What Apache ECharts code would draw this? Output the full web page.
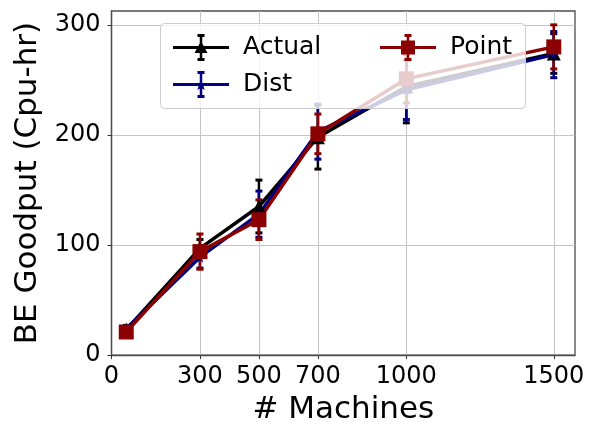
<!DOCTYPE html>
<html>
<head>
<meta charset="utf-8">
<script src="https://cdn.jsdelivr.net/npm/echarts@6/dist/echarts.min.js"></script>
<style>
  html, body { margin: 0; padding: 0; background: #fff; }
  #chart { width: 592px; height: 430px; }
</style>
</head>
<body>
<div id="chart"></div>
<script>
// 数据
const machines = [50, 300, 500, 700, 1000, 1500]
const actualVals = [23, 97, 135, 198, 244, 274]
const actualErr = [3, 8, 24, 29, 33, 18]
const distVals = [24, 89, 128, 203, 241, 273]
const distErr = [3, 10, 21, 25, 27, 21]
const pointVals = [21, 94, 123, 201, 251, 280]
const pointErr = [2, 16, 18, 18, 22, 20]
const xTicks = [0, 300, 500, 700, 1000, 1500]
const yTicks = [0, 100, 200, 300]

const FONT = 'DejaVu Sans'
const colors = { Actual: '#000000', Dist: '#000080', Point: '#8b0000' }

// legend icons: line + error bar + marker (56 x 27)
const base = 'M0 12 H56 V15 H0 Z M26.75 1 H29.25 V26 H26.75 Z M24.5 0 H31.5 V3 H24.5 Z M24.5 24 H31.5 V27 H24.5 Z '
const iconActual = 'path://' + base + 'M28 7 L34.5 19 L21.5 19 Z'
const iconDist = 'path://' + base + 'M28 8 L29.6 12 L33.5 12.3 L30.5 15 L31.5 19 L28 16.8 L24.5 19 L25.5 15 L22.5 12.3 L26.4 12 Z'
const iconPoint = 'path://' + base + 'M21 6.5 H35 V20.5 H21 Z'
const starPath = 'path://M50 0 L61 35 L98 35 L68 57 L79 92 L50 70 L21 92 L32 57 L2 35 L39 35 Z'

const pairs = (vals) => machines.map((m, i) => [m, vals[i]])
const errPairs = (vals, errs) => machines.map((m, i) => [m, vals[i], errs[i]])

// 误差线
function renderErr(params, api) {
  const x = api.value(0), y = api.value(1), e = api.value(2)
  const top = api.coord([x, y + e])
  const bot = api.coord([x, y - e])
  const c = api.visual('color')
  return {
    type: 'group',
    children: [
      { type: 'line', shape: { x1: top[0], y1: top[1], x2: bot[0], y2: bot[1] }, style: { stroke: c, lineWidth: 2.5 } },
      { type: 'line', shape: { x1: top[0] - 3.5, y1: top[1], x2: top[0] + 3.5, y2: top[1] }, style: { stroke: c, lineWidth: 3 } },
      { type: 'line', shape: { x1: bot[0] - 3.5, y1: bot[1], x2: bot[0] + 3.5, y2: bot[1] }, style: { stroke: c, lineWidth: 3 } }
    ]
  }
}

function lineSeries(name, vals, symbol, size) {
  return {
    name: name,
    type: 'line',
    data: pairs(vals),
    symbol: symbol,
    symbolSize: size,
    showAllSymbol: true,
    lineStyle: { color: colors[name], width: 3.5 },
    itemStyle: { color: colors[name], borderWidth: 0 },
    emphasis: { disabled: true },
    animation: false
  }
}
function errSeries(name, vals, errs) {
  return {
    name: name,
    type: 'custom',
    data: errPairs(vals, errs),
    renderItem: renderErr,
    itemStyle: { color: colors[name] },
    encode: { x: 0, y: 1 },
    animation: false
  }
}

let myChart = echarts.init(document.getElementById('chart'))

const legendText = { fontFamily: FONT, fontSize: 25, color: '#000', padding: [0, 0, 0, 9] }

const option = {
  animation: false,
  textStyle: { fontFamily: FONT },
  grid: {
    left: 111.5, right: 17, top: 11, bottom: 73,
    show: true, borderColor: '#4d4d4d', borderWidth: 1.3
  },
  graphic: {
    elements: [
      {
        type: 'rect', left: 160, top: 23, z: 50,
        shape: { width: 365, height: 85, r: 4 },
        style: { fill: 'rgba(255,255,255,0.8)', stroke: '#cccccc', lineWidth: 1 }
      }
    ]
  },
  legend: [
    {
      orient: 'vertical', left: 168, top: 29, z: 100,
      itemWidth: 56, itemHeight: 27, itemGap: 10,
      data: [{ name: 'Actual', icon: iconActual }, { name: 'Dist', icon: iconDist }],
      itemStyle: { borderWidth: 0 },
      textStyle: legendText,
      selectedMode: false
    },
    {
      orient: 'vertical', left: 375, top: 29, z: 100,
      itemWidth: 56, itemHeight: 27,
      data: [{ name: 'Point', icon: iconPoint }],
      itemStyle: { borderWidth: 0 },
      textStyle: legendText,
      selectedMode: false
    }
  ],
  xAxis: {
    type: 'value',
    min: 0, max: 1572,
    name: '# Machines',
    nameLocation: 'middle',
    nameGap: 33,
    nameTextStyle: { fontFamily: FONT, fontSize: 31, color: '#000' },
    axisLine: { show: true, lineStyle: { color: '#4d4d4d', width: 1.3 } },
    axisTick: { show: true, length: 4, customValues: xTicks, lineStyle: { color: '#333' } },
    axisLabel: { customValues: xTicks, formatter: (v) => String(v), fontFamily: FONT, fontSize: 24, color: '#000', margin: 10 },
    splitLine: { show: true, lineStyle: { color: '#c4c4c4', width: 1 } }
  },
  yAxis: {
    type: 'value',
    min: 0, max: 312.6,
    name: 'BE Goodput (Cpu-hr)',
    nameLocation: 'middle',
    nameGap: 61,
    nameTextStyle: { fontFamily: FONT, fontSize: 31, color: '#000' },
    axisLine: { show: true, lineStyle: { color: '#4d4d4d', width: 1.3 } },
    axisTick: { show: true, length: 4, customValues: yTicks, lineStyle: { color: '#333' } },
    axisLabel: { customValues: yTicks, formatter: (v) => String(v), fontFamily: FONT, fontSize: 24, color: '#000', margin: 11 },
    splitLine: { show: true, lineStyle: { color: '#c4c4c4', width: 1 } }
  },
  series: [
    lineSeries('Actual', actualVals, 'triangle', 14),
    errSeries('Actual', actualVals, actualErr),
    lineSeries('Dist', distVals, starPath, 11),
    errSeries('Dist', distVals, distErr),
    lineSeries('Point', pointVals, 'rect', 15),
    errSeries('Point', pointVals, pointErr)
  ]
}

myChart.setOption(option)
window.addEventListener('resize', function () {
  myChart.resize()
})
</script>
</body>
</html>
